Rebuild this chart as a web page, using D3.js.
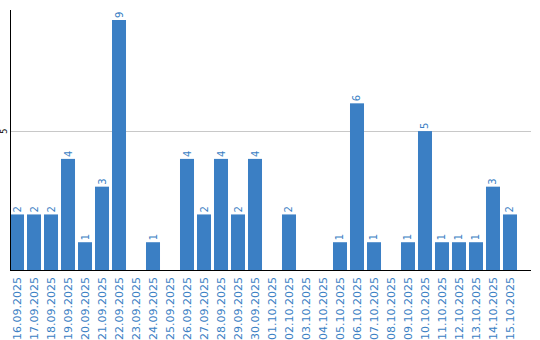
<!DOCTYPE html>
<html>
<head>
<meta charset="utf-8">
<script src="https://cdn.jsdelivr.net/npm/d3@7"></script>
<style>
  body { margin: 0; background: #fff; }
  svg { display: block; }
</style>
</head>
<body>
<svg id="chart" width="540" height="340"></svg>
<script>
// Data
const days = ["16.09.2025", "17.09.2025", "18.09.2025", "19.09.2025", "20.09.2025", "21.09.2025",
    "22.09.2025", "23.09.2025", "24.09.2025", "25.09.2025", "26.09.2025", "27.09.2025",
    "28.09.2025", "29.09.2025", "30.09.2025", "01.10.2025", "02.10.2025", "03.10.2025",
    "04.10.2025", "05.10.2025", "06.10.2025", "07.10.2025", "08.10.2025", "09.10.2025",
    "10.10.2025", "11.10.2025", "12.10.2025", "13.10.2025", "14.10.2025", "15.10.2025"];
const counts = [2, 2, 2, 4, 1, 3, 9, 0, 1, 0, 4, 2, 4, 2, 4, 0, 2, 0, 0, 1, 6, 1, 0, 1, 5, 1, 1, 1, 3, 2];
const yTicks = [5];

const blue = "#3b7fc4";
const svg = d3.select("#chart");
const rows = days.map((d, i) => ({day: d, n: counts[i]}));

// Scales
const x = d3.scaleBand().domain(days).range([10, 517]).paddingInner(0.176).paddingOuter(0);
const y = d3.scaleLinear().domain([0, 9.36]).range([270, 10]);

// Gridline
svg.selectAll("line.grid")
    .data(yTicks)
    .enter().append("line")
    .attr("class", "grid")
    .attr("x1", 11).attr("x2", 531)
    .attr("y1", d => Math.round(y(d)) + 0.5).attr("y2", d => Math.round(y(d)) + 0.5)
    .attr("stroke", "#c8c8c8");

// Y tick labels
svg.selectAll("text.ytick")
    .data(yTicks)
    .enter().append("text")
    .attr("class", "ytick")
    .attr("transform", d => `translate(7,${y(d)}) rotate(-90)`)
    .attr("text-anchor", "middle")
    .style("font-family", "DejaVu Sans")
    .style("font-size", "8px")
    .attr("fill", "#000")
    .text(d => d);

// Bars
svg.selectAll("rect.bar")
    .data(rows)
    .enter().append("rect")
    .attr("class", "bar")
    .attr("x", d => x(d.day))
    .attr("width", x.bandwidth())
    .attr("y", d => y(d.n))
    .attr("height", d => y(0) - y(d.n))
    .attr("fill", blue);

// Value labels
svg.selectAll("text.val")
    .data(rows.filter(d => d.n > 0))
    .enter().append("text")
    .attr("class", "val")
    .attr("transform", d => `translate(${x(d.day) + x.bandwidth() / 2 + 3.5},${y(d.n) - 2}) rotate(-90)`)
    .style("font-family", "DejaVu Sans")
    .style("font-size", "10px")
    .attr("fill", blue)
    .text(d => d.n);

// X labels
svg.selectAll("text.xlab")
    .data(days)
    .enter().append("text")
    .attr("class", "xlab")
    .attr("transform", d => `translate(${x(d) + x.bandwidth() / 2 + 4},277) rotate(-90)`)
    .attr("text-anchor", "end")
    .style("font-family", "DejaVu Sans")
    .style("font-size", "11px")
    .attr("fill", blue)
    .text(d => d);

// Axes lines
svg.append("line")
    .attr("x1", 10.5).attr("x2", 10.5).attr("y1", 10).attr("y2", 271)
    .attr("stroke", "#000");
svg.append("line")
    .attr("x1", 10).attr("x2", 531).attr("y1", 270.5).attr("y2", 270.5)
    .attr("stroke", "#000");
</script>
</body>
</html>
